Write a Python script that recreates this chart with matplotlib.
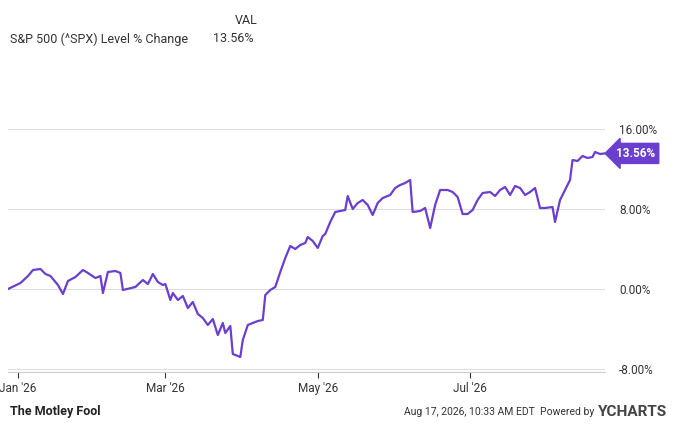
import datetime as dt
import matplotlib.pyplot as plt
import matplotlib.dates as mdates

plt.rcParams['font.family'] = ['Roboto', 'DejaVu Sans']

# days from Jan 1 2026, and % change
days = [-4, 1, 4, 6, 9, 11, 13, 16, 18, 20, 23, 26, 28, 31, 33, 34, 36, 39, 41, 42, 47, 50, 52, 54, 56, 58,
        59, 61, 62, 64, 66, 68, 70, 72, 74, 76, 78, 80, 82, 83, 85, 86, 89, 90, 92, 94, 96, 98, 99, 101,
        103, 105, 107, 109, 111, 113, 115, 116, 118, 120, 122, 123, 125, 127, 129, 131, 132, 134, 136, 138,
        140, 142, 144, 146, 149, 151, 153, 155, 157, 158, 161, 163, 165, 167, 169, 172, 174, 176, 178, 180,
        182, 184, 186, 189, 191, 193, 195, 197, 199, 201, 203, 205, 207, 209, 211, 214, 215, 217, 219, 221,
        222, 224, 226, 228, 230, 231, 233, 235]
pct = [0.0, 0.6, 1.3, 1.9, 2.0, 1.5, 1.3, 0.4, -0.5, 0.8, 1.2, 1.9, 1.6, 1.1, 1.3, -0.4, 1.7, 1.8, 1.6, -0.1,
       0.2, 0.9, 0.5, 1.5, 0.7, 0.4, 0.5, -1.1, -0.4, -1.1, -0.7, -1.9, -1.3, -2.5, -2.9, -3.6, -3.0, -4.6,
       -3.4, -4.4, -3.7, -6.5, -6.8, -5.1, -3.6, -3.4, -3.2, -3.1, -0.6, -0.1, 0.2, 1.7, 3.1, 4.3, 4.0, 4.4,
       4.6, 5.2, 4.8, 4.1, 5.3, 5.5, 6.7, 7.7, 7.8, 7.9, 9.3, 8.0, 8.6, 8.9, 8.4, 7.4, 8.6, 9.1, 9.4, 10.1,
       10.4, 10.6, 10.9, 7.7, 7.8, 8.1, 6.1, 8.4, 9.9, 9.9, 9.7, 9.2, 7.5, 7.5, 7.9, 8.9, 9.6, 9.7, 9.3,
       9.9, 10.2, 9.4, 10.3, 10.1, 9.4, 9.7, 10.1, 8.1, 8.1, 8.2, 6.7, 8.9, 9.9, 10.9, 12.9, 12.8, 13.3,
       13.1, 13.2, 13.7, 13.5, 13.56]
yticks = [-8, 0, 8, 16]

dates = [dt.date(2026, 1, 1) + dt.timedelta(days=d) for d in days]
purple = '#6a3fd0'

fig = plt.figure(figsize=(7, 4.28), dpi=100)
ax = fig.add_axes([8 / 700, 56 / 428, 597 / 700, 272 / 428])
ax.plot(dates, pct, color=purple, lw=1.6)
ax.set_ylim(-8.3, 18.9)
ax.set_xlim(dates[0], dates[-1])
ax.set_yticks(yticks)
ax.yaxis.tick_right()
ax.set_yticklabels([f'{v:.2f}%' for v in yticks], fontsize=8.5, color='#333333')
ax.tick_params(axis='y', length=0, pad=10)
ax.xaxis.set_major_locator(mdates.MonthLocator(bymonth=[1, 3, 5, 7]))
ax.xaxis.set_major_formatter(mdates.DateFormatter("%b '%y"))
ax.tick_params(axis='x', labelsize=8.5, colors='#333333', length=4)
for lbl in ax.get_xticklabels():
    lbl.set_color('#333333')
ax.grid(axis='y', color='#dddddd', lw=0.8)
for s in ax.spines.values():
    s.set_visible(False)
ax.spines['bottom'].set_visible(True)
ax.spines['bottom'].set_color('#cccccc')

ax.annotate(f'{pct[-1]:.2f}%', xy=(1, pct[-1]), xycoords=('axes fraction', 'data'),
            xytext=(8, 0), textcoords='offset points', va='center', ha='left',
            fontsize=8.5, color='white', fontweight='bold',
            bbox=dict(boxstyle='larrow,pad=0.3', fc=purple, ec=purple))

fig.text(235 / 700, 1 - 20 / 428, 'VAL', fontsize=9, color='#333333', va='center')
fig.text(10 / 700, 1 - 39 / 428, 'S&P 500 (^SPX) Level % Change', fontsize=9, color='#333333', va='center')
fig.text(213 / 700, 1 - 39 / 428, f'{pct[-1]:.2f}%', fontsize=9, color='#333333', va='center')
fig.text(10 / 700, 1 - 412 / 428, 'The Motley Fool', fontsize=9, fontweight='bold', color='#222222', va='center')
fig.text(594 / 700, 1 - 412 / 428, 'Aug 17, 2026, 10:33 AM EDT  Powered by', fontsize=7.5,
         color='#333333', va='center', ha='right')
fig.text(598 / 700, 1 - 412 / 428, 'YCHARTS', fontsize=11, fontweight='bold', color='#444444', va='center')

fig.savefig('out.png')
